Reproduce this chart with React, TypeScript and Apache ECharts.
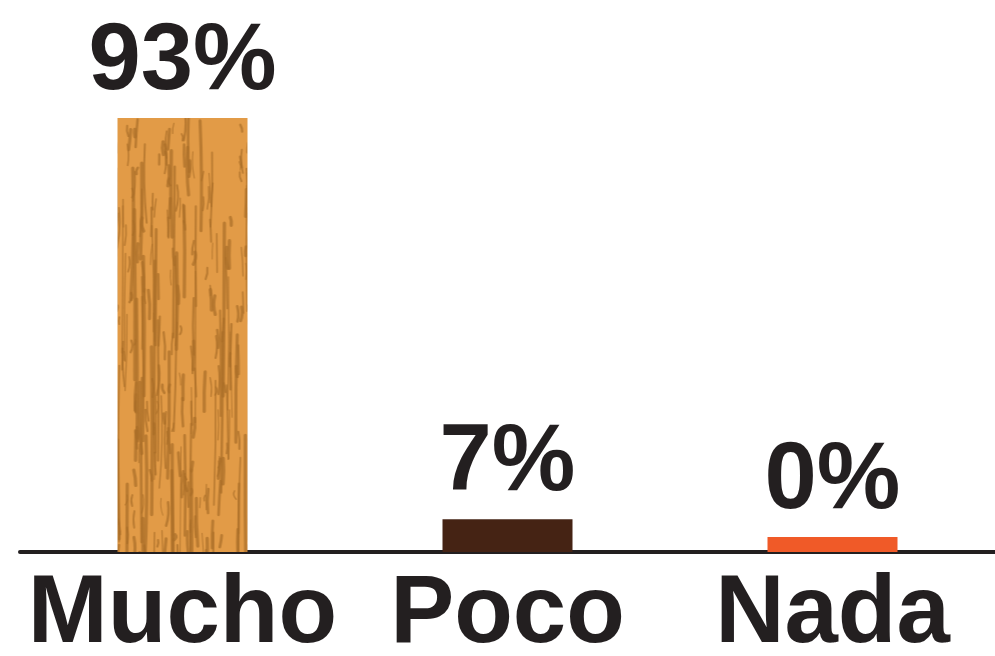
import React, { useEffect, useRef } from "react";
import * as echarts from "echarts";

const categories = ["Mucho", "Poco", "Nada"];
const values = [93, 7, 0];
const valueLabels = ["93%", "7%", "0%"];

const WOOD_BASE = "#E29B47";
const WOOD_GRAIN = "rgba(170,110,40,0.7)";
const POCO_COLOR = "#452314";
const NADA_COLOR = "#F05A28";
const INK = "#231F20";

const TEX_W = 995;
const TEX_H = 656;

function makeWoodCanvas(): HTMLCanvasElement {
  const c = document.createElement("canvas");
  c.width = TEX_W;
  c.height = TEX_H;
  const ctx = c.getContext("2d")!;
  ctx.fillStyle = WOOD_BASE;
  ctx.fillRect(0, 0, TEX_W, TEX_H);
  // deterministic pseudo-random grain texture (decoration only)
  let s = 24680;
  const rnd = () => {
    s = (s * 1103515245 + 12345) % 2147483648;
    return s / 2147483648;
  };
  ctx.strokeStyle = WOOD_GRAIN;
  ctx.lineCap = "round";
  for (let i = 0; i < 2600; i++) {
    const x = rnd() * TEX_W;
    const y = rnd() * TEX_H;
    const len = 5 + rnd() * (rnd() < 0.35 ? 170 : 25);
    ctx.lineWidth = 1 + rnd() * 2.5;
    ctx.beginPath();
    ctx.moveTo(x, y);
    ctx.quadraticCurveTo(x + (rnd() - 0.5) * 5, y + len / 2, x + (rnd() - 0.5) * 4, y + len);
    ctx.stroke();
  }
  return c;
}

export default function App() {
  const ref = useRef<HTMLDivElement>(null);
  useEffect(() => {
    if (!ref.current) return;
    const chart = echarts.init(ref.current, null, { renderer: "svg" });
    const wood = makeWoodCanvas();
    const colors: any[] = [
      { image: wood, repeat: "no-repeat", imageWidth: TEX_W, imageHeight: TEX_H },
      POCO_COLOR,
      NADA_COLOR,
    ];
    chart.setOption({
      animation: false,
      backgroundColor: "#ffffff",
      grid: { left: 20, right: -14, top: 118, bottom: 104, containLabel: false },
      xAxis: {
        type: "category",
        data: categories,
        axisLine: { show: true, lineStyle: { color: INK, width: 4 } },
        axisTick: { show: false },
        axisLabel: {
          interval: 0,
          margin: 14,
          color: INK,
          fontFamily: "Liberation Sans",
          fontWeight: "bold",
          fontSize: 96,
          lineHeight: 84,
        },
      },
      yAxis: {
        type: "value",
        min: 0,
        max: 93,
        show: false,
        splitLine: { show: false },
      },
      series: [
        {
          type: "bar",
          barWidth: 130,
          barMinHeight: 15,
          data: values.map((v, i) => ({ value: v, itemStyle: { color: colors[i] } })),
          label: {
            show: true,
            position: "top",
            distance: 22,
            formatter: (p: any) => valueLabels[p.dataIndex],
            color: INK,
            fontFamily: "Liberation Sans",
            fontWeight: "bold",
            fontSize: 94,
            lineHeight: 80,
          },
        },
      ],
    });
    return () => chart.dispose();
  }, []);
  return (
    <div
      ref={ref}
      style={{ position: "fixed", left: 0, top: 0, width: 995, height: 656, background: "#fff" }}
    />
  );
}
